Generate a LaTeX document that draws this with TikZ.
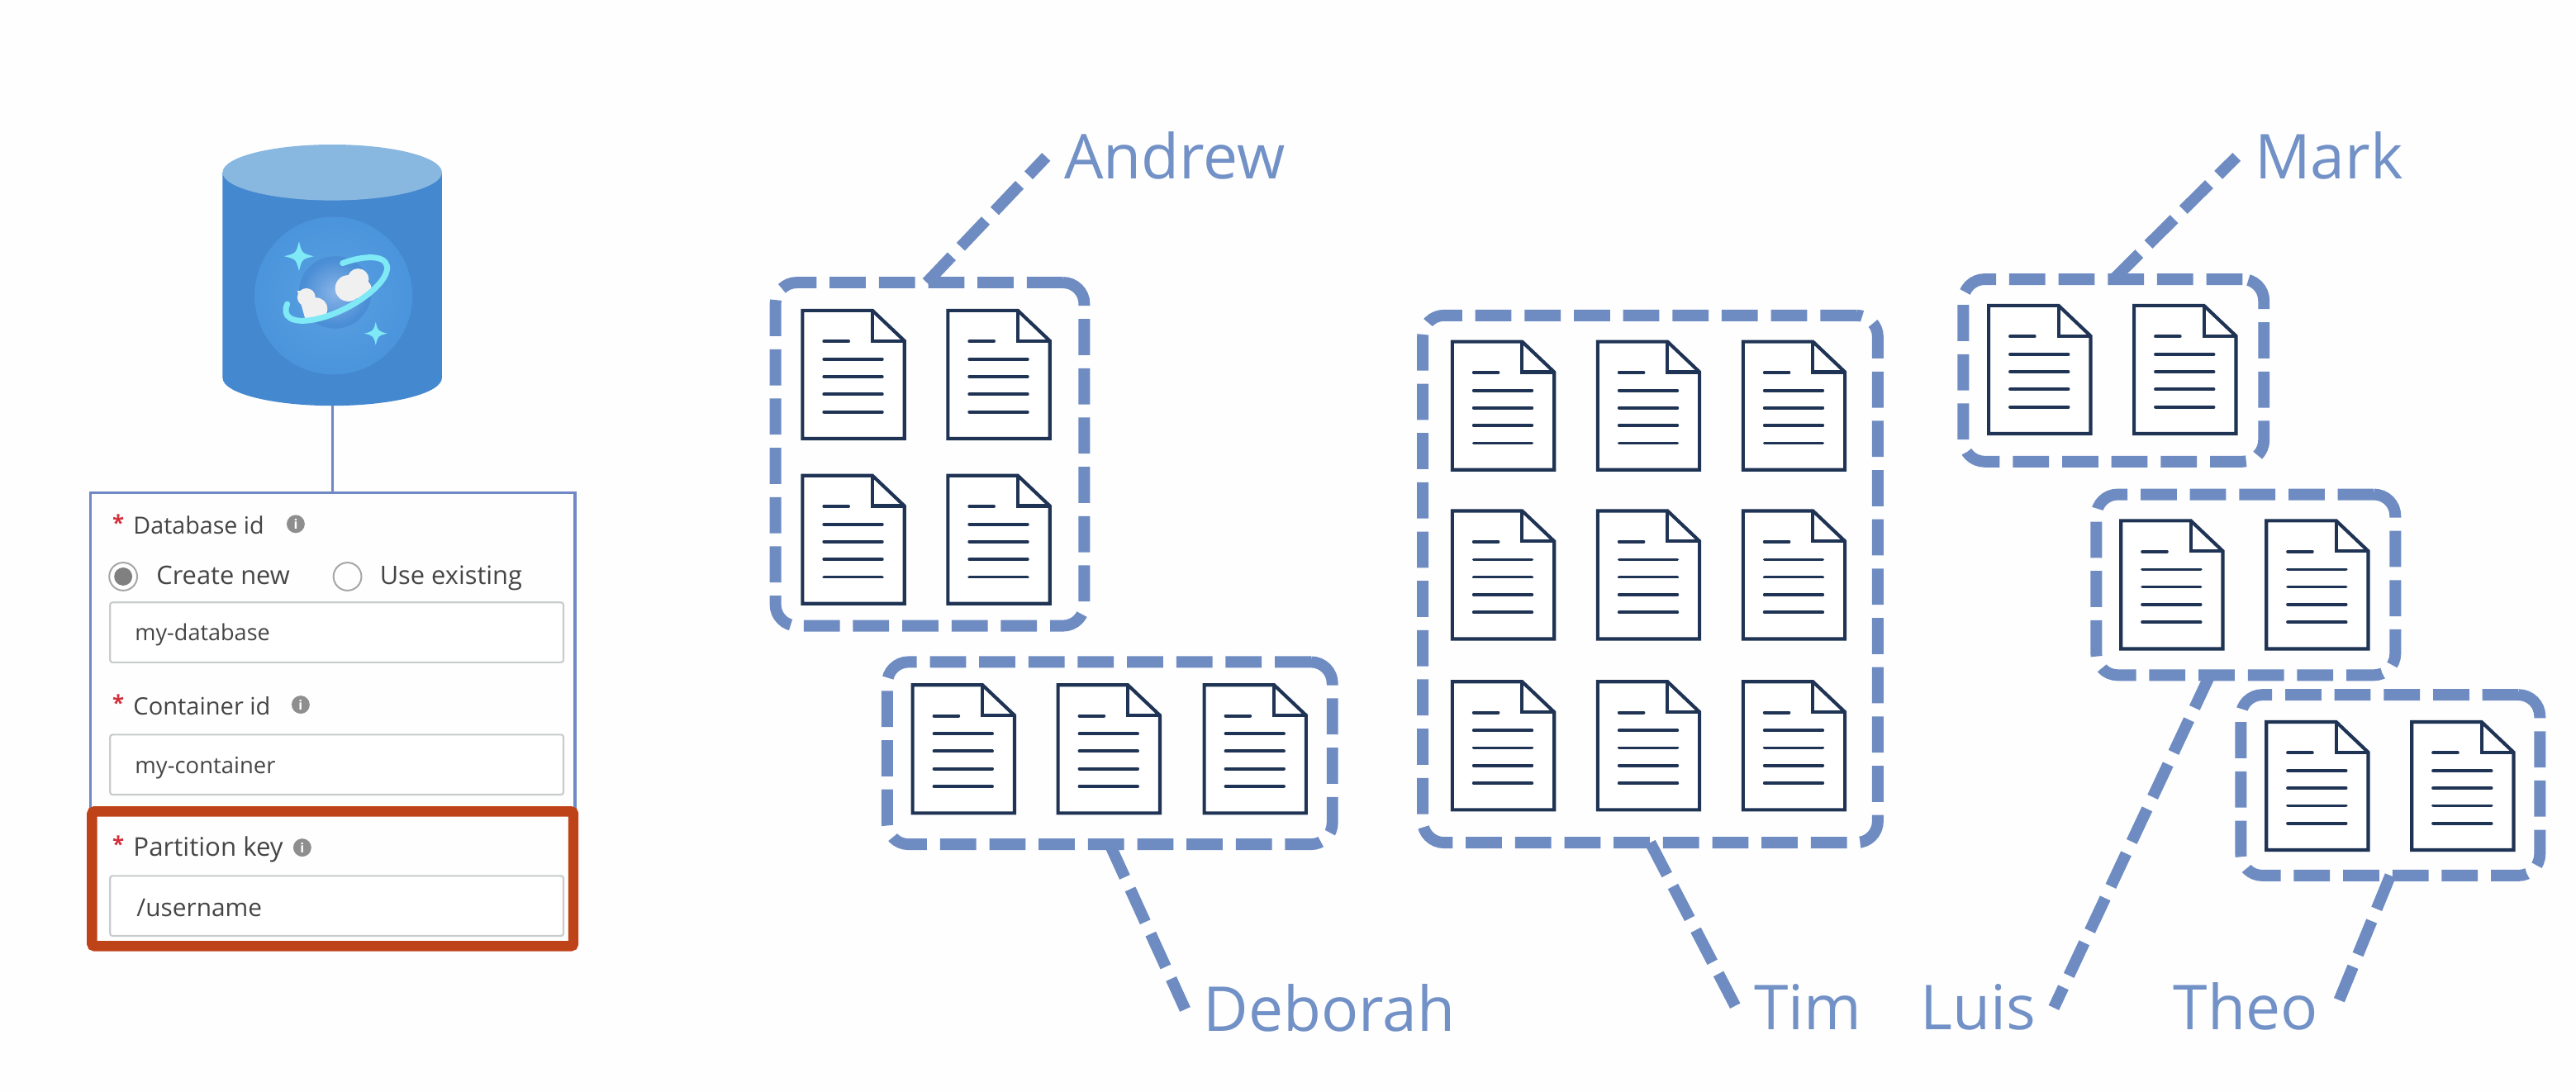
\documentclass[tikz,border=0pt]{standalone}
\usepackage{fontspec}
\setmainfont{Open Sans}
\usetikzlibrary{calc}
\definecolor{pagebg}{HTML}{FEFEFE}
\definecolor{dashblue}{HTML}{6F8CC2}
\definecolor{labelblue}{HTML}{7291C6}
\definecolor{docnavy}{HTML}{1F3354}
\definecolor{formblue}{HTML}{7089C4}
\definecolor{redkey}{HTML}{BF4318}
\definecolor{cyltop}{HTML}{88B7E0}
\definecolor{cylbody}{HTML}{4488D0}
\definecolor{glowmid}{HTML}{4A94DC}
\definecolor{glowin}{HTML}{5AA0E0}
\definecolor{glowedge}{HTML}{3370B4}
\definecolor{planetin}{HTML}{8AB4E8}
\definecolor{planetmid}{HTML}{4C8FD6}
\definecolor{planetout}{HTML}{3A7CC4}
\definecolor{ringcyan}{HTML}{7FE9F6}
\definecolor{cloudwhite}{HTML}{F0F0F0}
\definecolor{formtext}{HTML}{454545}
\definecolor{fieldline}{HTML}{C9CCCC}
\definecolor{infogray}{HTML}{8E8E8E}
\definecolor{starred}{HTML}{D4303C}
\pgfdeclareradialshading{glowshade}{\pgfpoint{0bp}{0bp}}{color(0bp)=(glowin);color(26bp)=(glowmid);color(44bp)=(glowedge);color(50bp)=(cylbody)}
\pgfdeclareradialshading{planetshade}{\pgfpoint{0bp}{0bp}}{color(0bp)=(planetin);color(22bp)=(planetmid);color(50bp)=(planetout)}
\tikzset{
  group/.style={draw=dashblue,line width=7pt,dash pattern=on 22pt off 8pt,rounded corners=13pt,inner sep=0pt,outer sep=0pt,fill=none},
  conn/.style={draw=dashblue,line width=7pt,dash pattern=on 22pt off 8pt},
  lab/.style={text=labelblue,font=\fontsize{37.7}{40}\selectfont,inner sep=0pt,outer xsep=11pt,outer ysep=0pt,text height=27pt,text depth=0pt},
  ftext/.style={text=formtext,font=\fontsize{#1}{16}\selectfont,inner sep=0pt,anchor=base west},
  field/.style={draw=fieldline,line width=1.1pt,rounded corners=1.5pt,fill=white,inner sep=0pt,minimum width=276pt,minimum height=36.5pt},
  star/.style={text=starred,font=\fontsize{13}{14}\selectfont\bfseries,inner sep=0pt},
  info/.style={circle,fill=infogray,text=white,font=\fontsize{8}{8}\selectfont\bfseries,inner sep=0pt,minimum size=11pt},
  radio/.style={circle,draw=gray!70,line width=1pt,inner sep=0pt,minimum size=17pt},
  docpic/.pic={
    \draw[docnavy,line width=2.1pt,fill=white,line join=miter] (0,0) -- (42.5,0) -- (62,18.5) -- (62,78) -- (0,78) -- cycle;
    \draw[docnavy,line width=2.1pt] (42.5,0) -- (42.5,18.5) -- (62,18.5);
    \draw[docnavy,line width=1.9pt,line cap=round] (13,18.8) -- (28,18.8);
    \foreach \yy in {29.7,40.3,51,61.8} \draw[docnavy,line width=1.9pt,line cap=round] (13,\yy) -- (48.5,\yy);
  }
}
\newcommand{\sparkle}[3]{\fill[ringcyan] (#1-#3,#2) .. controls (#1-0.2*#3,#2-0.2*#3) .. (#1,#2-#3) .. controls (#1+0.2*#3,#2-0.2*#3) .. (#1+#3,#2) .. controls (#1+0.2*#3,#2+0.2*#3) .. (#1,#2+#3) .. controls (#1-0.2*#3,#2+0.2*#3) .. cycle;}
\begin{document}
\begin{tikzpicture}[x=1pt,y=-1pt]
\useasboundingbox (0,0) rectangle (1568,664.8);
\fill[pagebg] (0,0) rectangle (1568,664.8);

\node[minimum width=295pt,minimum height=195pt,draw=formblue,line width=1.6pt,inner sep=0pt,fill=pagebg] (form) at (202.5,397.5) {};

% cylinder
\fill[cylbody] (135.5,105) -- (135.5,230) arc[start angle=180,end angle=0,x radius=66.75,y radius=17] -- (269,105) -- cycle;
\shade[shading=glowshade] (203,180) circle (48);
\fill[cyltop] (202.25,105) ellipse [x radius=66.75,y radius=17];
\coordinate (cylbottom) at (202.5,247);
\draw[formblue,line width=1.6pt] (cylbottom) -- (form.north -| cylbottom);
% planet
\shade[shading=planetshade] (204,178) circle (22);
\fill[cloudwhite] (212,175.5) circle (8);
\fill[cloudwhite] (218,170) circle (6.5);
\fill[cloudwhite] (220,176) circle (6.2);
\fill[cloudwhite] (186.5,181) circle (5.5);
\fill[cloudwhite] (192.5,188) circle (6.8);
\fill[cloudwhite] (181,177) -- (186,195) -- (195,195) -- (191,178) -- cycle;
\begin{scope}[shift={(204.8,176)},rotate=27]
\draw[ringcyan,line width=3.5pt,line cap=round] (-72:34 and 13) arc[start angle=-72,end angle=205,x radius=34,y radius=13];
\end{scope}
\sparkle{182}{156}{9}
\sparkle{228.7}{203}{7}

% form
\node[star] (s1) at (72,318) {*};
\node[ftext=14.4] (t1) at (81,325) {Database id};
\node[info] (i1) at (180,319) {i};
\node[radio] (r1) at (75,351) {};
\node[circle,fill=gray,minimum size=11pt,inner sep=0pt] (r1d) at (75,351) {};
\node[ftext=15.5] (t2) at (95,356) {Create new};
\node[radio] (r2) at (211.5,351) {};
\node[ftext=15.5] (t3) at (231,356) {Use existing};
\node[field] (f1) at (205,385) {};
\node[ftext=13.6] (t4) at (82,390) {my-database};
\node[star] (s2) at (72,428) {*};
\node[ftext=14.6] (t5) at (81,435) {Container id};
\node[info] (i2) at (183,429) {i};
\node[field] (f2) at (205,465.5) {};
\node[ftext=13.8] (t6) at (82,471) {my-container};
\node[draw=redkey,line width=6.2pt,rounded corners=1.5pt,minimum width=293pt,minimum height=82pt,inner sep=0pt,fill=pagebg] (red) at (202.5,535) {};
\node[star] (s3) at (72,514) {*};
\node[ftext=15.7] (t7) at (81,521) {Partition key};
\node[info] (i3) at (184,516) {i};
\node[field] (f3) at (205,551.5) {};
\node[ftext=15] (t8) at (83,558) {/username};

% groups
\node[group,minimum width=188pt,minimum height=209pt] (andrew) at (566,276.5) {};
\node[group,minimum width=271pt,minimum height=111pt] (deborah) at (675.5,458.5) {};
\node[group,minimum width=277pt,minimum height=321pt] (tim) at (1004.5,352.5) {};
\node[group,minimum width=183pt,minimum height=111pt] (mark) at (1286.5,225.5) {};
\node[group,minimum width=182pt,minimum height=110pt] (luis) at (1367,356) {};
\node[group,minimum width=182pt,minimum height=110pt] (theo) at (1455,478) {};

% documents
\foreach \px/\py in {488.5/189,577/189,488.5/289.5,577/289.5,
  555.5/417,644/417,733/417,
  884/208,972.5/208,1061/208,884/311,972.5/311,1061/311,884/415,972.5/415,1061/415,
  1210.5/186,1299/186,
  1291/317,1379.5/317,
  1379.5/439.5,1468/439.5}
  \pic at (\px,\py) {docpic};

% labels
\node[lab,anchor=base] (lA) at (715,109) {Andrew};
\node[lab,anchor=base] (lD) at (809,628) {Deborah};
\node[lab,anchor=base] (lT) at (1100.5,627) {Tim};
\node[lab,anchor=base] (lL) at (1204,627) {Luis};
\node[lab,anchor=base] (lH) at (1367,627) {Theo};
\node[lab,anchor=base] (lM) at (1417.5,109) {Mark};

% connectors
\draw[conn] ($(andrew.north west)!0.49!(andrew.north east)$) -- (lA.west);
\draw[conn] ($(deborah.south west)!0.50!(deborah.south east)$) -- (lD.west);
\draw[conn] ($(tim.south west)!0.50!(tim.south east)$) -- (lT.west);
\draw[conn] ($(mark.north west)!0.50!(mark.north east)$) -- (lM.west);
\draw[conn] ($(luis.south west)!0.38!(luis.south east)$) -- (lL.east);
\draw[conn] ($(theo.south west)!0.50!(theo.south east)$) -- (lH.east);
\end{tikzpicture}
\end{document}
